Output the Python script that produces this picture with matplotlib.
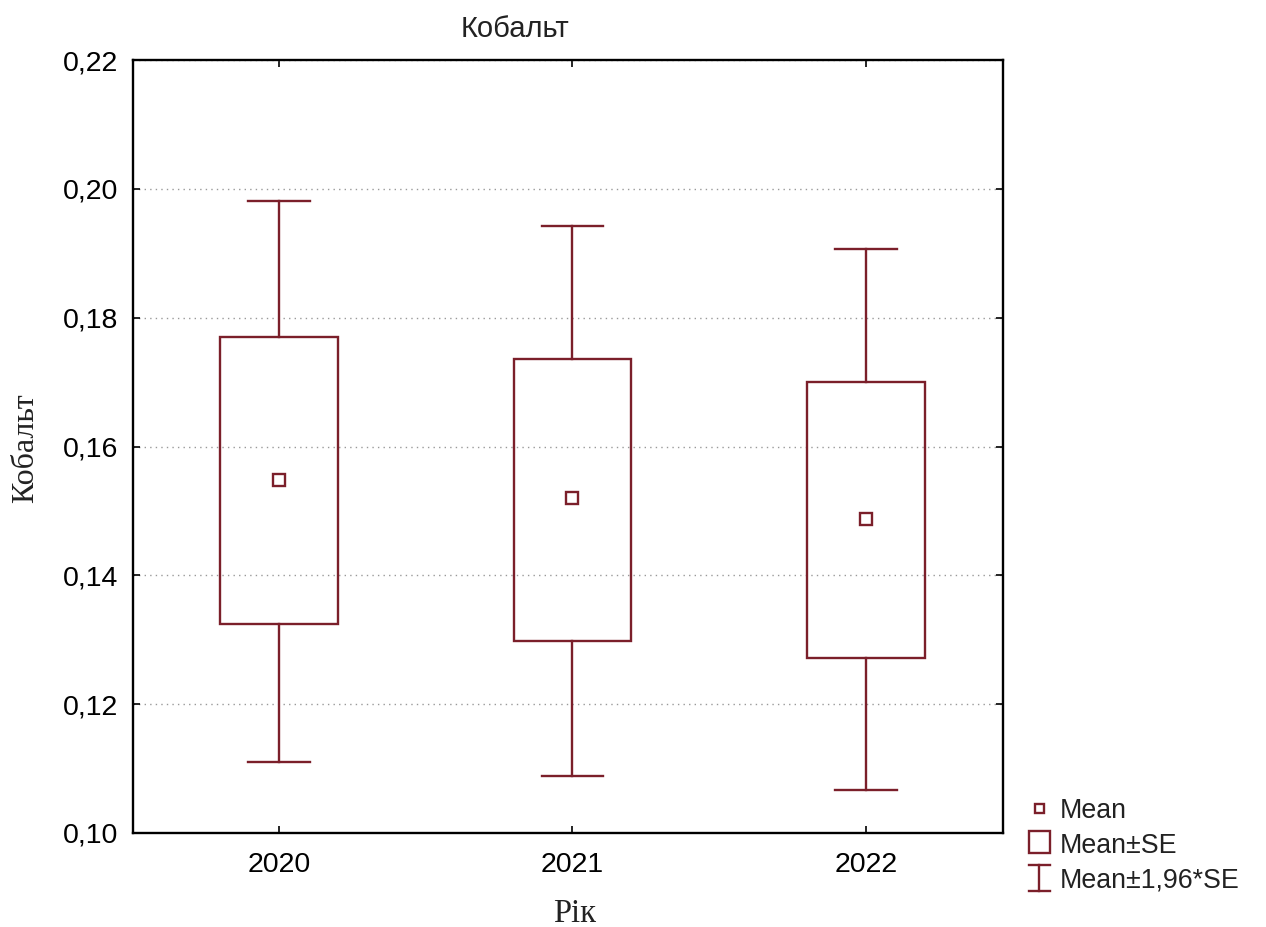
import matplotlib
matplotlib.use("Agg")
import matplotlib.pyplot as plt
from matplotlib.lines import Line2D
from matplotlib.patches import Rectangle
from matplotlib.legend_handler import HandlerBase

years = ["2020", "2021", "2022"]
means = [0.1548, 0.1520, 0.1488]
se_low = [0.1324, 0.1298, 0.1272]
se_high = [0.1770, 0.1736, 0.1700]
ci_low = [0.1110, 0.1089, 0.1067]
ci_high = [0.1981, 0.1942, 0.1907]
yticks = [0.10, 0.12, 0.14, 0.16, 0.18, 0.20, 0.22]
ytick_labels = ["0,10", "0,12", "0,14", "0,16", "0,18", "0,20", "0,22"]

col = "#7b1f2a"
txtcol = "#222222"
sans = "Liberation Sans"
serif = "Liberation Serif"

fig = plt.figure(figsize=(12.66, 9.27), dpi=100)
ax = fig.add_axes([133/1266, 1-833/927, 870/1266, 773/927])

box_w = 0.40
cap_w = 0.21
lw = 1.7
for i in range(len(years)):
    ax.plot([i, i], [ci_low[i], se_low[i]], color=col, lw=lw)
    ax.plot([i, i], [se_high[i], ci_high[i]], color=col, lw=lw)
    ax.plot([i - cap_w/2, i + cap_w/2], [ci_low[i], ci_low[i]], color=col, lw=lw)
    ax.plot([i - cap_w/2, i + cap_w/2], [ci_high[i], ci_high[i]], color=col, lw=lw)
    ax.add_patch(Rectangle((i - box_w/2, se_low[i]), box_w, se_high[i]-se_low[i],
                           fill=False, edgecolor=col, lw=lw))
    ax.plot([i], [means[i]], marker="s", ms=8.5, mfc="white", mec=col, mew=1.7, ls="none")

ax.set_xlim(-0.497, 2.467)
ax.set_ylim(0.10, 0.22)
ax.set_xticks(range(len(years)))
ax.set_xticklabels(years, fontfamily=sans, fontsize=20.5, color=txtcol)
ax.set_yticks(yticks)
ax.set_yticklabels(ytick_labels, fontfamily=sans, fontsize=20.5, color=txtcol)
ax.tick_params(direction="in", length=5, width=1.2, colors="black")
ax.tick_params(axis="x", pad=14)
ax.tick_params(axis="y", pad=10.5)
ax.tick_params(top=True, right=True, labeltop=False, labelright=False)
for s in ax.spines.values():
    s.set_linewidth(1.7)
ax.yaxis.grid(True, linestyle=(0, (1, 3)), color="#999999", lw=1.0)
ax.set_axisbelow(True)

fig.text(515/1266, 1-37/927, "Кобальт", fontfamily=sans, fontsize=21, ha="center", va="baseline", color=txtcol)
fig.text(26/1266, 1-448/927, "Кобальт", fontfamily=serif, fontsize=23, rotation=90, ha="center", va="center", color=txtcol)
fig.text(575/1266, 1-914/927, "Рік", fontfamily=serif, fontsize=23.5, ha="center", va="center", color=txtcol)


class HandlerSquare(HandlerBase):
    def __init__(self, w, h, dy=0):
        super().__init__()
        self.w = w
        self.h = h
        self.dy = dy

    def create_artists(self, legend, orig_handle, xdescent, ydescent, width, height, fontsize, trans):
        cx = width/2 - xdescent
        cy = height/2 - ydescent + self.dy
        r = Rectangle((cx - self.w/2, cy - self.h/2), self.w, self.h, fill=False,
                      edgecolor=col, lw=1.7, transform=trans)
        return [r]


class HandlerI(HandlerBase):
    def create_artists(self, legend, orig_handle, xdescent, ydescent, width, height, fontsize, trans):
        cx = width/2 - xdescent
        h = 18.5
        cy = height/2 - ydescent
        w = 15
        l1 = Line2D([cx, cx], [cy - h/2, cy + h/2], color=col, lw=1.7, transform=trans)
        l2 = Line2D([cx - w/2, cx + w/2], [cy - h/2, cy - h/2], color=col, lw=1.7, transform=trans)
        l3 = Line2D([cx - w/2, cx + w/2], [cy + h/2, cy + h/2], color=col, lw=1.7, transform=trans)
        return [l1, l2, l3]


class H1: pass
class H2: pass
class H3: pass

leg = fig.legend([H1(), H2(), H3()], ["Mean", "Mean±SE", "Mean±1,96*SE"],
                 handler_map={H1: HandlerSquare(6.6, 6.6), H2: HandlerSquare(15, 15.8, 1.2), H3: HandlerI()},
                 loc="upper left", bbox_to_anchor=(1026/1266, 1-798/927),
                 frameon=False, prop={"family": sans, "size": 19.3},
                 handlelength=1.0, handleheight=0.7, handletextpad=0.25, labelspacing=0.33,
                 borderpad=0, borderaxespad=0)
for t in leg.get_texts():
    t.set_color(txtcol)

fig.savefig("out.png", dpi=100)
